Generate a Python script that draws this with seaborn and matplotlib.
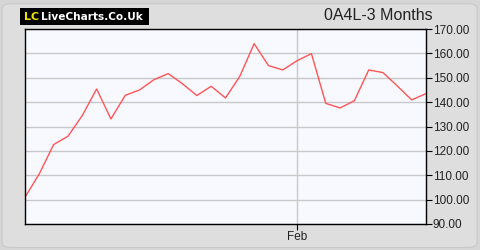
import matplotlib
matplotlib.use("Agg")
import matplotlib.pyplot as plt
import seaborn as sns
import pandas as pd
import numpy as np
from matplotlib.patches import FancyBboxPatch

prices = [101.0, 110.6, 122.6, 126.0, 134.5, 145.4, 133.1, 142.8, 145.0, 149.2,
          151.7, 147.5, 142.7, 146.5, 141.7, 150.6, 164.0, 155.0, 153.2, 157.0,
          159.9, 139.5, 137.6, 140.6, 153.2, 152.1, 146.6, 140.9, 143.5]
y_ticks = [90, 100, 110, 120, 130, 140, 150, 160, 170]
x_tick_pos = [19]
x_tick_labels = ["Feb"]
title = "0A4L-3 Months"

df = pd.DataFrame({"i": np.arange(len(prices)), "price": prices})

sns.set_style("white")
plt.rcParams["font.family"] = ["Liberation Sans", "DejaVu Sans"]
fig = plt.figure(figsize=(4.8, 2.5), dpi=100)
fig.patch.set_facecolor("#d6d6d6")
bg = FancyBboxPatch((0.004, 0.01), 0.99, 0.975, boxstyle="round,pad=0,rounding_size=0.02",
                    transform=fig.transFigure, facecolor="#dedede", edgecolor="#c8c8c8",
                    linewidth=0.8, zorder=-10)
fig.patches.append(bg)

ax = fig.add_axes([25/480, 26/250, 401/480, 195/250])
ax.set_facecolor("#f8f9ff")
sns.lineplot(data=df, x="i", y="price", ax=ax, color="#ff5555", linewidth=1.0)

ax.set_xlim(0, len(prices) - 1)
ax.set_ylim(90, 170)
ax.set_yticks(y_ticks)
ax.set_yticklabels([f"{v:.2f}" for v in y_ticks])
ax.yaxis.tick_right()
ax.set_xticks(x_tick_pos)
ax.set_xticklabels(x_tick_labels)
ax.tick_params(axis="y", direction="out", length=4, width=0.8, color="black",
               labelsize=8.5, labelcolor="#222222", pad=1, right=True, left=False)
ax.tick_params(axis="x", direction="out", length=4, width=0.8, color="black",
               labelsize=8.5, labelcolor="#222222", pad=1, bottom=True)
ax.grid(True, axis="y", color="#c8c8c8", linewidth=1.0)
ax.grid(True, axis="x", color="#c8c8c8", linewidth=1.0)
ax.set_axisbelow(True)
for s in ax.spines.values():
    s.set_color("black")
    s.set_linewidth(1.0)
ax.set_xlabel("")
ax.set_ylabel("")

fig.text(433/480, 1 - 16/250, title, ha="right", va="center", fontsize=11.5,
         color="#222222")

# logo
fig.patches.append(plt.Rectangle((20/480, 1 - 25/250), 129/480, 17/250,
                                 transform=fig.transFigure, facecolor="black",
                                 edgecolor="none", zorder=5))
fig.text(24/480, 1 - 16.5/250, "LC", ha="left", va="center", fontsize=8,
         fontweight="bold", color="#f0e000", zorder=6, family="DejaVu Sans")
fig.text(41/480, 1 - 16.5/250, "LiveCharts.Co.Uk", ha="left", va="center",
         fontsize=7.6, fontweight="bold", color="white", zorder=6, family="DejaVu Sans")

fig.savefig("out.png", dpi=100, facecolor=fig.get_facecolor())
